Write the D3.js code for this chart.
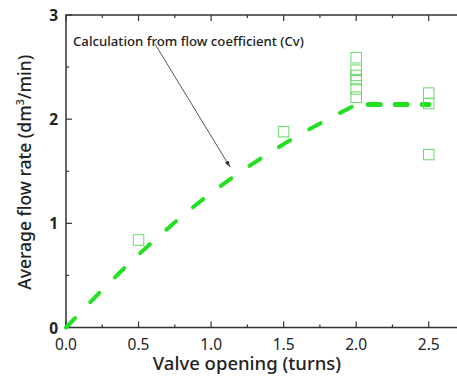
<!DOCTYPE html>
<html>
<head>
<meta charset="utf-8">
<script src="https://cdn.jsdelivr.net/npm/d3@7"></script>
<style>
  body { margin: 0; background: #fff; }
  svg { display: block; font-family: "Noto Sans", sans-serif; }
</style>
</head>
<body>
<svg id="chart" width="457" height="378"></svg>
<script>
// Measured points (valve opening in turns, flow rate in dm3/min)
const measX = [0.5, 1.5, 2.0, 2.0, 2.0, 2.0, 2.0, 2.0, 2.5, 2.5, 2.5];
const measY = [0.84, 1.88, 2.59, 2.47, 2.42, 2.38, 2.29, 2.21, 2.25, 2.15, 1.66];

// Calculated curve from Cv
const calcX = [0, 0.5, 1.0, 1.5, 2.0];
const calcY = [0, 0.70, 1.29, 1.76, 2.14];
const flatX = [2.0, 2.5];
const flatY = [2.14, 2.14];

const xTicks = [0, 0.5, 1.0, 1.5, 2.0, 2.5];
const yTicks = [0, 1, 2, 3];

const svg = d3.select('#chart');
const plotL = 66, plotT = 15, plotB = 327.5, plotR = 465;

const x = d3.scaleLinear().domain([0, 2.75]).range([plotL, plotR]);
const y = d3.scaleLinear().domain([0, 3]).range([plotB, plotT]);

const axisColor = '#333';

// Frame
svg.append('rect')
  .attr('x', plotL).attr('y', plotT)
  .attr('width', plotR - plotL).attr('height', plotB - plotT)
  .attr('fill', 'none').attr('stroke', axisColor).attr('stroke-width', 1.5);

// Ticks, inward on all sides
const xMinor = d3.range(0, 2.76, 0.25);
const yMinor = d3.range(0, 3.01, 0.5);
for (let v of xMinor) {
  let len = Math.abs(v * 2 - Math.round(v * 2)) < 1e-6 ? 6 : 3;
  svg.append('line').attr('x1', x(v)).attr('x2', x(v))
    .attr('y1', plotB).attr('y2', plotB - len)
    .attr('stroke', axisColor).attr('stroke-width', 1.2);
  svg.append('line').attr('x1', x(v)).attr('x2', x(v))
    .attr('y1', plotT).attr('y2', plotT + len)
    .attr('stroke', axisColor).attr('stroke-width', 1.2);
}
for (let v of yMinor) {
  let len = Number.isInteger(v) ? 6 : 3;
  svg.append('line').attr('x1', plotL).attr('x2', plotL + len)
    .attr('y1', y(v)).attr('y2', y(v))
    .attr('stroke', axisColor).attr('stroke-width', 1.2);
}

// Tick labels
svg.selectAll('.xl').data(xTicks).enter().append('text')
  .attr('x', d => x(d)).attr('y', 350)
  .attr('text-anchor', 'middle')
  .attr('font-size', 15.5).attr('fill', '#222')
  .text(d => d.toFixed(1));
svg.selectAll('.yl').data(yTicks).enter().append('text')
  .attr('x', 58).attr('y', d => y(d) + 6)
  .attr('text-anchor', 'end')
  .attr('font-size', 15.5).attr('font-weight', 'bold').attr('fill', '#222')
  .text(d => d);

// Axis titles
svg.append('text')
  .attr('x', 247).attr('y', 370)
  .attr('text-anchor', 'middle')
  .attr('font-size', 18.5).attr('font-weight', 500).attr('fill', '#222')
  .text('Valve opening (turns)');
const yt = svg.append('text')
  .attr('transform', 'translate(31,' + ((plotT + plotB) / 2 + 1) + ') rotate(-90)')
  .attr('text-anchor', 'middle')
  .attr('font-size', 17.5).attr('font-weight', 500).attr('fill', '#222');
yt.append('tspan').text('Average flow rate (dm');
yt.append('tspan').attr('font-size', 10.5).attr('dy', -7).text('3');
yt.append('tspan').attr('dy', 7).text('/min)');

// Calculated curve
const line = d3.line().x(d => x(d[0])).y(d => y(d[1]));
svg.append('path')
  .datum(d3.zip(calcX, calcY))
  .attr('d', line.curve(d3.curveMonotoneX))
  .attr('fill', 'none').attr('stroke', '#22e022')
  .attr('stroke-width', 4).attr('stroke-linecap', 'round')
  .attr('stroke-dasharray', '13,22');
svg.append('path')
  .datum(d3.zip(flatX, flatY))
  .attr('d', d3.line().x(d => x(d[0])).y(d => y(d[1])))
  .attr('fill', 'none').attr('stroke', '#22e022')
  .attr('stroke-width', 5).attr('stroke-linecap', 'round')
  .attr('stroke-dasharray', '12,15')
  .attr('stroke-dashoffset', -12);

// Measured squares
const s = 10.5;
svg.selectAll('.pt').data(d3.zip(measX, measY)).enter().append('rect')
  .attr('x', d => x(d[0]) - s / 2).attr('y', d => y(d[1]) - s / 2)
  .attr('width', s).attr('height', s)
  .attr('fill', 'none').attr('stroke', '#6ad86a').attr('stroke-width', 1);

// Annotation
svg.append('defs').append('marker')
  .attr('id', 'arr').attr('viewBox', '0 0 10 10')
  .attr('refX', 10).attr('refY', 5)
  .attr('markerWidth', 7).attr('markerHeight', 7)
  .attr('orient', 'auto')
  .append('path').attr('d', 'M0,1.5 L10,5 L0,8.5 Z').attr('fill', '#333');
svg.append('text')
  .attr('x', 73).attr('y', 46)
  .attr('font-size', 13.2).attr('font-weight', 500).attr('fill', '#222')
  .text('Calculation from flow coefficient (Cv)');
svg.append('line')
  .attr('x1', 155).attr('y1', 44).attr('x2', 230).attr('y2', 167)
  .attr('stroke', '#444').attr('stroke-width', 0.9)
  .attr('marker-end', 'url(#arr)');
</script>
</body>
</html>
